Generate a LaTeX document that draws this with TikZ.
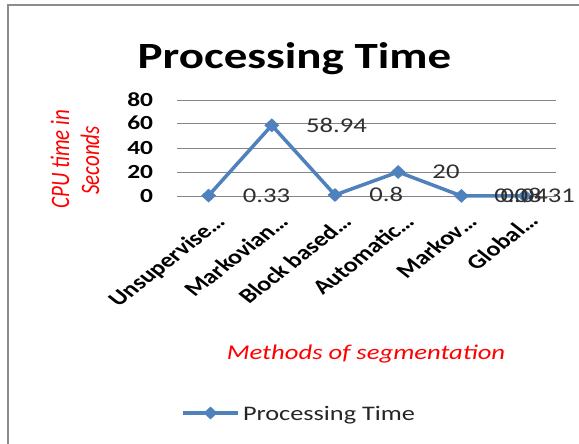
\documentclass[tikz,border=0pt]{standalone}
\usepackage{fontspec}
\usepackage{graphicx}
\setmainfont{Carlito}
\usetikzlibrary{shapes.geometric}

\definecolor{seriesblue}{HTML}{4F81BD}
\definecolor{gridgray}{HTML}{868686}
\definecolor{framegray}{HTML}{8C8C8C}
\definecolor{axisred}{HTML}{FF0000}
\definecolor{labeldark}{HTML}{303030}

\begin{document}
\begin{tikzpicture}[x=1pt,y=-1pt,
  wide/.style={xscale=1.27, transform shape, inner sep=0pt, outer sep=0pt},
  charttitle/.style={wide, font=\bfseries\fontsize{37}{44}\selectfont},
  ticklabel/.style={wide, font=\bfseries\fontsize{20}{24}\selectfont},
  catlabel/.style={wide, rotate=45, font=\bfseries\fontsize{20.5}{24}\selectfont},
  datalabel/.style={wide, text=labeldark, font=\fontsize{21}{25}\selectfont},
  axistitle/.style={wide, text=axisred, font=\itshape\fontsize{21}{25}\selectfont},
  legendtext/.style={wide, text=black!85, font=\fontsize{20.7}{25}\selectfont},
  gridline/.style={draw=gridgray, line width=1pt},
  seriesline/.style={draw=seriesblue, line width=3.5pt, line join=round},
  marker/.style={diamond, fill=seriesblue, draw=none, inner sep=0pt,
                 minimum width=15pt, minimum height=14pt},
]
\useasboundingbox (0,0) rectangle (579,444);
\fill[white] (0,0) rectangle (579,444);

% chart frame
\draw[framegray, line width=2pt] (579,4.8) -- (8.2,4.8) -- (8.2,444);

% title
\node[charttitle, anchor=base] (title) at (294.5,68.7) {Processing Time};

% value axis: gridlines and tick labels
\foreach \v/\yy in {0/196,20/172,40/148,60/124,80/100.7}{
  \draw[gridline] (177,\yy) -- (556,\yy);
  \node[ticklabel, anchor=base east] (tick\v) at (153,\yy+6) {\v};
}

% data points
\coordinate (p1) at (208.6,195.6);
\coordinate (p2) at (271.8,125.3);
\coordinate (p3) at (335.0,195.0);
\coordinate (p4) at (398.2,172.0);
\coordinate (p5) at (461.4,195.9);
\coordinate (p6) at (524.6,195.95);

\draw[seriesline] (p1) -- (p2) -- (p3) -- (p4) -- (p5) -- (p6);
\foreach \i in {1,...,6}{
  \node[marker] (m\i) at (p\i) {};
}

% data labels
\node[datalabel, anchor=base west, xshift=27pt, yshift=-6.7pt] (d1) at (p1) {0.33};
\node[datalabel, anchor=base west, xshift=27pt, yshift=-6.7pt] (d2) at (p2) {58.94};
\node[datalabel, anchor=base west, xshift=27pt, yshift=-6.7pt] (d3) at (p3) {0.8};
\node[datalabel, anchor=base west, xshift=27pt, yshift=-6.7pt] (d4) at (p4) {20};
\node[datalabel, anchor=base west, xshift=26pt, yshift=-6.7pt] (d5) at (p5) {0.08};
\node[datalabel, anchor=base east] (d6) at (575,202.7) {0.0431};

% category labels
\node[catlabel, anchor=base east] (c1) at (226.6,223) {Unsupervise\ldots};
\node[catlabel, anchor=base east] (c2) at (289.8,223) {Markovian\ldots};
\node[catlabel, anchor=base east] (c3) at (353.0,223) {Block based\ldots};
\node[catlabel, anchor=base east] (c4) at (415.6,223) {Automatic\ldots};
\node[catlabel, anchor=base east] (c5) at (478.4,223) {Markov\ldots};
\node[catlabel, anchor=base east] (c6) at (539.6,222) {Global\ldots};

% axis titles
\node[axistitle, anchor=base] (xtitle) at (366,359.3) {Methods of segmentation};
\node[axistitle, anchor=center] (ytitleA) at (60,159) {\rotatebox{90}{CPU time in}};
\node[axistitle, anchor=center] (ytitleB) at (90,160.5) {\rotatebox{90}{Seconds}};

% legend
\coordinate (lgA) at (183,413);
\coordinate (lgB) at (238,413);
\draw[seriesline] (lgA) -- (lgB);
\node[marker, minimum width=14pt, minimum height=13pt] (lgmark) at (210.5,413) {};
\node[legendtext, anchor=base west] (lgtext) at (243,420) {Processing Time};
\end{tikzpicture}
\end{document}
